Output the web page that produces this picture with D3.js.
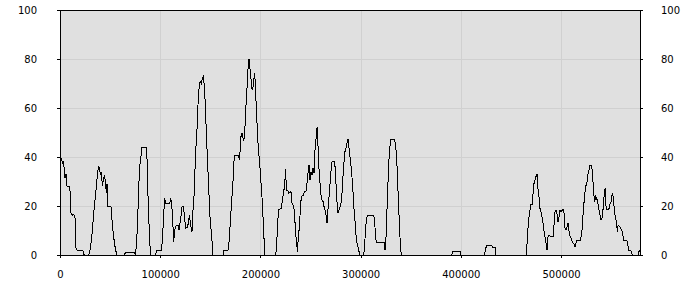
<!DOCTYPE html>
<html><head><meta charset="utf-8">
<script src="https://cdn.jsdelivr.net/npm/d3@7"></script>
<style>
html,body{margin:0;padding:0;background:#fff;}
text{font-family:"DejaVu Sans",Verdana,sans-serif;font-size:10px;fill:#000;}
</style></head>
<body><svg id="c" width="700" height="300"></svg>
<script>
const xTicks = [0, 100000, 200000, 300000, 400000, 500000];
const yTicks = [0, 20, 40, 60, 80, 100];
const xMax = 578800;
const xs = [0,1700,2400,3400,4400,5000,6000,7000,9000,10000,11000,12400,13700,15000,16000,17000,22700,23700,24400,28600,29600,30900,32300,33600,34900,36300,37300,38300,39300,40300,41300,42300,43300,44300,45300,46300,46900,47600,50900,51900,53300,54600,55900,56900,64300,65300,74300,75200,76500,77800,78800,79800,80800,81500,85800,86800,87800,89500,90800,95500,96200,101200,102200,103500,104500,105500,109500,110500,111500,112500,113500,114500,115800,117800,118800,120500,121800,123200,124200,125400,127100,128100,129100,130400,131700,132400,133700,134700,135700,136700,137700,139100,140100,141100,142100,143100,144100,145100,146100,147100,148400,149700,151100,152700,162700,163700,167700,168700,170100,171400,172700,173700,174700,177600,179000,180000,180600,181600,182600,183300,184300,185300,186600,187600,188600,189300,190600,191600,192300,193300,194300,195000,196000,197000,198000,199300,200600,202000,203000,204000,204600,215300,216300,217300,218300,220600,222000,223300,224300,225200,225900,227200,228200,230500,231500,232500,233900,234900,235900,237200,237900,238900,239900,240900,242900,243900,245500,246500,247500,248500,249500,250500,251500,252500,253500,254500,255500,256500,257500,258500,259500,260500,261500,262500,263500,264500,265500,266500,267500,268500,269500,270500,271500,273500,274500,275400,276400,277400,278400,279400,280400,281400,282400,283400,284400,285400,286400,287400,288400,289400,290100,291100,292100,293100,294100,295100,296100,297400,298400,299100,303100,304100,305100,306100,307100,313100,314100,315100,316100,323400,324400,325300,326300,327300,328300,329300,330300,334000,335000,336000,337000,338000,339000,340000,340700,390900,391400,391900,399200,400200,423600,424600,425500,431100,432100,434100,435100,465100,466100,467100,468100,469100,470100,471100,472100,473100,474100,475000,476000,477000,478000,479000,480000,481000,482000,483000,484000,485000,486000,487000,488000,489700,492000,493000,494000,495000,496000,497000,498000,499000,500000,502000,503000,504000,505000,506000,507000,508000,509000,510000,511000,512000,513000,514000,515000,516000,519000,520000,521000,522000,523000,524000,525000,526000,527000,528000,528900,530600,531600,532600,533600,534600,535600,536600,537600,538600,539600,540600,541600,542600,543600,544300,544900,545900,546900,547900,548900,549900,550900,551600,552600,553600,554600,555600,556300,556900,558300,559600,560600,561600,562600,565600,566600,567600,569600,570600,571300,576800,577800,578500];
const ys = [40,39,37.4,38,34.7,31.4,33,28,28,26,17,16.3,16.5,15,2.7,2,2,0.4,0,0,1,4.8,10,17,22.4,28,32.6,36,35.5,33,33.5,28,30.6,32.6,30,25.3,29,19.7,19.7,14.3,8.2,4.1,1.4,0,0,1.1,1.1,0,5,18,30,37,40,44,44,40,24.5,4.8,0,0,2,2,6,17,23.2,21,21,23.2,21,13.6,5.4,10.2,11.8,12,10.2,15,19.7,19.7,15.6,10.9,11.4,13,16.3,12,9.5,16.3,23.8,34.7,44.2,51,61.2,70,70.7,70,72,72.8,68.7,60.5,49,39.5,27.2,15.6,8.8,0,0,2,2,5.4,14.3,22.4,30.6,38.8,40.8,40.8,39.5,43.5,48.3,49.7,48,46.5,49.5,59,68,76,80,77,72,68,67.3,71.4,74.1,69,59,50.3,42.9,37.4,29.3,21.1,11.6,3.4,0,0,4.8,13.6,18.6,19,22.4,25.9,29.3,35,26.5,26.5,25.2,25.9,21.1,20.4,18.4,10.2,5.4,1.4,10.2,10.2,19.7,23.8,24.5,25.9,25.9,29.3,33.3,36.7,30.6,34,32.6,35.4,33.3,42.9,47.6,52.1,44.2,34.7,29.3,24.5,22.4,21.8,19.7,18.4,16.3,12.9,19,23.8,29.3,34.7,38.1,38.1,36,29.3,21.8,17,18.4,19.7,21,25.2,32,38,42.2,43.5,45.6,47.2,43.5,40,38,33.3,27.9,20.4,15.6,9.5,5.4,3.4,1.4,0,0,4.8,11.6,15,16.3,16.3,12.9,6.4,5.2,5.2,2,6.8,18.4,29.3,38.8,44.2,47.2,47.2,44.2,39.5,29.3,19.7,9.5,2,0,0,0.7,1.4,1.4,0,0,2,3.8,3.8,3.1,3.1,0,0,4.8,11.6,15.6,18.4,20.8,20.8,25.2,29.5,30.6,32,33.1,27,23.8,19,17.5,15.5,13,10,7.5,4.8,2,7.5,8.2,7.5,7.5,12.2,17.7,18.4,16.7,13.6,15.6,18.4,17.7,18.6,17,10.9,10.2,11.6,12.9,9.5,7.5,6.8,5.8,4.8,4.5,3.4,5,6.1,6,7.5,10.2,17,21.8,25.9,28.6,29.9,33.3,34.7,36.7,36.7,32,25.2,21.8,23.8,23,21.8,19,17,14.3,14.3,17,22.4,26.5,27.2,19.7,18.4,18.6,19,21,21.8,24.5,25.2,21,17,15,12.2,9.5,12.2,11.6,10.9,10.2,8.2,6.1,6.1,4.1,2,2,0.7,0,0,1.4,2];

const W = 700, H = 300;
const L = 60, R = 640, T = 10, B = 255;
const svg = d3.select("#c");
const x = d3.scaleLinear().domain([0, xMax]).range([L, R]);
const y = d3.scaleLinear().domain([0, 100]).range([B, T]);

svg.append("rect").attr("x", L).attr("y", T).attr("width", R - L).attr("height", B - T).attr("fill", "#e0e0e0");

const g = svg.append("g").attr("shape-rendering", "crispEdges");
g.selectAll(".gx").data(xTicks.filter(d => d > 0)).join("line")
  .attr("x1", d => Math.round(x(d)) + 0.5).attr("x2", d => Math.round(x(d)) + 0.5)
  .attr("y1", T).attr("y2", B).attr("stroke", "#d0d0d0");
g.selectAll(".gy").data(yTicks.filter(d => d > 0 && d < 100)).join("line")
  .attr("y1", d => Math.round(y(d)) + 0.5).attr("y2", d => Math.round(y(d)) + 0.5)
  .attr("x1", L).attr("x2", R).attr("stroke", "#d0d0d0");

const line = d3.line().x((d, i) => x(xs[i])).y((d, i) => y(ys[i]));
svg.append("path").datum(xs).attr("d", line).attr("fill", "none")
  .attr("stroke", "#000").attr("stroke-width", 1).attr("shape-rendering", "crispEdges");

const ax = svg.append("g").attr("transform", `translate(0,${B})`)
  .call(d3.axisBottom(x).tickValues(xTicks).tickFormat(d3.format("d")).tickSize(3).tickPadding(13));
const ayL = svg.append("g").attr("transform", `translate(${L},0)`)
  .call(d3.axisLeft(y).tickValues(yTicks).tickSize(3).tickPadding(20));
const ayR = svg.append("g").attr("transform", `translate(${R},0)`)
  .call(d3.axisRight(y).tickValues(yTicks).tickSize(3).tickPadding(18));
[ax, ayL, ayR].forEach(a => {
  a.attr("font-family", null).attr("font-size", null).attr("shape-rendering", "crispEdges");
  a.selectAll("line").attr("stroke", "#000");
  a.select(".domain").remove();
});
svg.append("rect").attr("x", L + 0.5).attr("y", T + 0.5).attr("width", R - L).attr("height", B - T)
  .attr("fill", "none").attr("stroke", "#000").attr("shape-rendering", "crispEdges");
</script></body></html>
